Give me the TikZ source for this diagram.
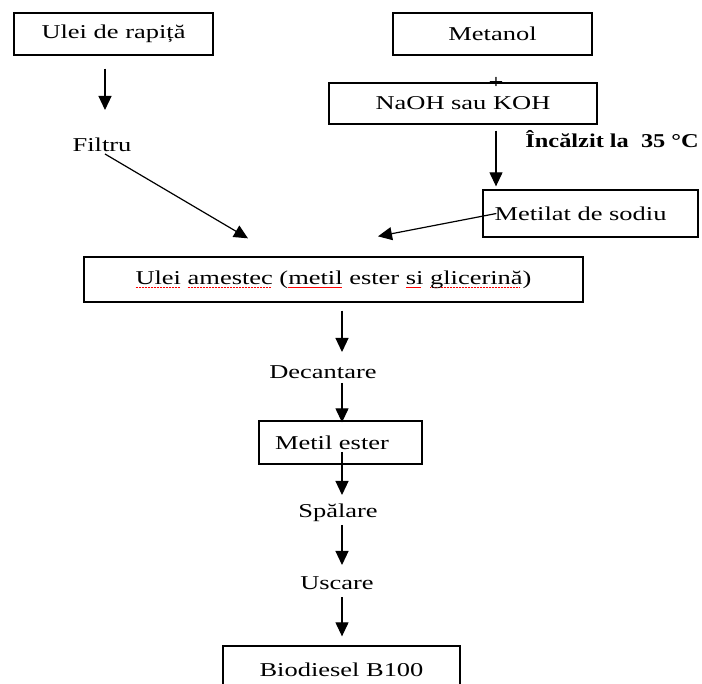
\documentclass[tikz,border=0pt]{standalone}
\usepackage{fontspec}
\usepackage{graphicx}
\setmainfont[FakeStretch=1.35]{Liberation Serif}
\usetikzlibrary{arrows.meta,calc}
\newcommand\spw[1]{\setbox0\hbox{#1}\rlap{\color{red}\leaders\hbox to 3pt{\rule[-4pt]{1.2pt}{0.8pt}\hfil\rule[-3.2pt]{1.2pt}{0.8pt}\hfil}\hskip\wd0}\box0\relax}
\tikzset{
  txt/.style={font=\fontsize{19.6}{22}\selectfont, inner sep=0pt},
  box/.style={txt, draw, line width=1.3pt, anchor=center},
  arr/.style={line width=1.2pt, -{Triangle[width=13pt,length=14pt]}}
}
\begin{document}
\begin{tikzpicture}[x=1pt,y=-1pt]
\path[use as bounding box, fill=white] (0,0) rectangle (702,684);
% boxes
\node[box, minimum width=199pt, minimum height=42pt] (rap) at (113.5,34) {Ulei de rapiță};
\node[box, minimum width=199pt, minimum height=42pt] (met) at (492.5,34) {Metanol};
\node[box, minimum width=268pt, minimum height=41pt] (naoh) at (463,103.5) {NaOH sau KOH};
\node[box, minimum width=215pt, minimum height=47pt] (metilat) at (590.5,213.5) {Metilat de sodiu\hspace*{20pt}};
\node[box, minimum width=499pt, minimum height=45pt] (mix) at (333.5,279.5)
  {\raisebox{-3pt}{\spw{Ulei} \spw{amestec} (\spw{metil} ester \spw{si} \spw{glicerină})}};
\node[box, minimum width=163pt, minimum height=43pt] (mester) at (340.5,442.5) {\raisebox{-4pt}{Metil ester}\hspace*{17pt}};
\node[box, minimum width=237pt, minimum height=48pt] (bio) at (341.5,670) {Biodiesel B100};
% texts
\node[txt] (plus) at (496,83) {+};
\node[txt, anchor=east, font=\fontsize{19.6}{22}\selectfont\bfseries] (heat) at (699,139) {\scalebox{0.92}[1]{Încălzit la\ \ 35 °C}};
\node[txt] (filtru) at (102,145) {Filtru};
\node[txt] (dec) at (323,372) {Decantare};
\node[txt] (spal) at (338,513) {Spălare};
\node[txt] (usc) at (337,583) {Uscare};
% connectors
\draw[arr] ($(rap.south)+(-8.5,13)$) -- ($(filtru.center)+(3,-35)$);
\draw[arr] ($(filtru.center)+(3,9)$) -- ($(mix.north)+(-85.5,-18)$);
\draw[arr] ($(naoh.south)+(33,6)$) -- ($(metilat.north)+(-94.5,-3)$);
\draw[arr] ($(metilat.west)+(14,0)$) -- ($(mix.north)+(44.5,-20)$);
\draw[arr] ($(mix.south)+(8.5,8)$) -- ($(dec.center)+(19,-20)$);
\draw[arr] ($(dec.center)+(19,11)$) -- ($(mester.north)+(1.5,2)$);
\draw[arr] ($(mester.center)+(1.5,9.5)$) -- ($(spal.center)+(4,-18)$);
\draw[arr] ($(spal.center)+(4,12)$) -- ($(usc.center)+(5,-18)$);
\draw[arr] ($(usc.center)+(5,14)$) -- ($(bio.north)+(0.5,-9)$);
\end{tikzpicture}
\end{document}
